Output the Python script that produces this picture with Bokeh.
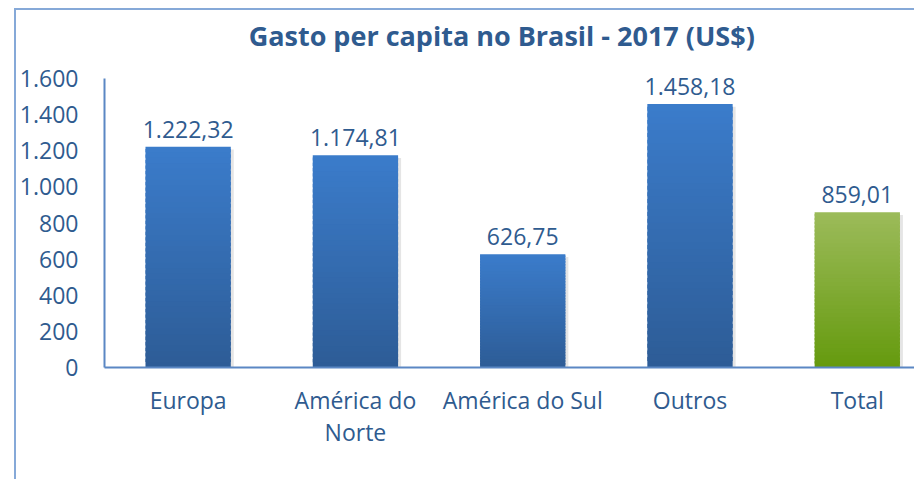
from bokeh.plotting import figure
from bokeh.models import ColumnDataSource, Range1d, FixedTicker, LabelSet, Label
from bokeh.core.properties import value
from bokeh.embed import file_html
from bokeh.resources import INLINE

# ---- data ----
categories = ["Europa", "América do Norte", "América do Sul", "Outros", "Total"]
category_labels = ["Europa", "América do\nNorte", "América do Sul", "Outros", "Total"]
values = [1222.32, 1174.81, 626.75, 1458.18, 859.01]
value_labels = ["1.222,32", "1.174,81", "626,75", "1.458,18", "859,01"]
y_ticks = [0, 200, 400, 600, 800, 1000, 1200, 1400, 1600]
y_tick_labels = ["0", "200", "400", "600", "800", "1.000", "1.200", "1.400", "1.600"]
title_text = "Gasto per capita no Brasil - 2017 (US$)"

# ---- styles ----
TXT = "#2F5B8F"
AXIS = "#5B87C4"
BORDER = "#86A9D8"
FONT = "Open Sans"
blue_top, blue_bot = (0x3B, 0x7C, 0xCB), (0x2D, 0x5C, 0x96)
green_top, green_bot = (0x9C, 0xBB, 0x5A), (0x65, 0x9A, 0x0E)
BAR_W = 0.51
PX = 1 / 167.3          # one pixel in x data units
Y_MAX = 1600
Y_TOP = 1600 + 68 / (289 / 1600)   # frame reaches up to the canvas top (room for the title)
N = 40


def mix(a, b, t):
    return "#%02x%02x%02x" % tuple(int(round(a[j] + (b[j] - a[j]) * t)) for j in range(3))


xs = list(range(len(categories)))

p = figure(width=900, height=471, output_backend="svg", toolbar_location=None,
           x_range=Range1d(-0.5, 4.354), y_range=Range1d(0, Y_TOP),
           min_border_left=88, min_border_right=0, min_border_top=0,
           min_border_bottom=114)
p.styles = {"margin-left": "14px", "margin-top": "8px",
            "border-left": f"2px solid {BORDER}", "border-top": f"2px solid {BORDER}"}
p.outline_line_color = None
p.grid.visible = False
p.background_fill_color = "white"

# soft shadow to the right of each bar
sh_src = ColumnDataSource(dict(
    left=[i - BAR_W / 2 + 3 * PX for i in xs],
    right=[i + BAR_W / 2 + 3 * PX for i in xs],
    top=[v - 15 for v in values]))
p.quad(left="left", right="right", bottom=0, top="top", source=sh_src,
       fill_color="#000000", fill_alpha=0.10, line_color=None)

# gradient bars drawn as stacked, slightly overlapping slices of each data bar
L, R, B, T, C = [], [], [], [], []
for i, v in zip(xs, values):
    top_c, bot_c = (green_top, green_bot) if categories[i] == "Total" else (blue_top, blue_bot)
    for k in range(N):
        L.append(i - BAR_W / 2)
        R.append(i + BAR_W / 2)
        B.append(v * k / N)
        T.append(v * min(k + 1.6, N) / N)
        C.append(mix(bot_c, top_c, (k + 0.5) / N))
src = ColumnDataSource(dict(left=L, right=R, bottom=B, top=T, color=C))
p.quad(left="left", right="right", bottom="bottom", top="top", fill_color="color",
       line_color=None, source=src)

# value labels
lab_src = ColumnDataSource(dict(x=xs, y=values, text=value_labels))
p.add_layout(LabelSet(x="x", y="y", text="text", source=lab_src, text_align="center",
                      text_baseline="bottom", y_offset=9, text_color=TXT,
                      text_font=value(FONT), text_font_size="23px"))

# axes
p.xaxis.ticker = FixedTicker(ticks=xs)
p.xaxis.major_label_overrides = {i: category_labels[i] for i in xs}
p.yaxis.ticker = FixedTicker(ticks=y_ticks)
p.yaxis.major_label_overrides = {t: l for t, l in zip(y_ticks, y_tick_labels)}
p.yaxis.bounds = (0, Y_MAX)
for ax in (p.xaxis, p.yaxis):
    ax.axis_line_color = AXIS
    ax.axis_line_width = 2
    ax.major_tick_line_color = None
    ax.minor_tick_line_color = None
    ax.major_label_text_color = TXT
    ax.major_label_text_font = FONT
    ax.major_label_text_font_size = "23px"
p.xaxis.major_label_standoff = 10
p.xaxis.major_label_text_line_height = 1.0
p.yaxis.major_label_standoff = 20

# title
p.add_layout(Label(x=0.3616, y=1838, text=title_text, text_align="left",
                   text_baseline="alphabetic", text_font=FONT,
                   text_font_style="bold", text_font_size="27px", text_color=TXT))

open("out.html", "w").write(file_html(p, INLINE))
